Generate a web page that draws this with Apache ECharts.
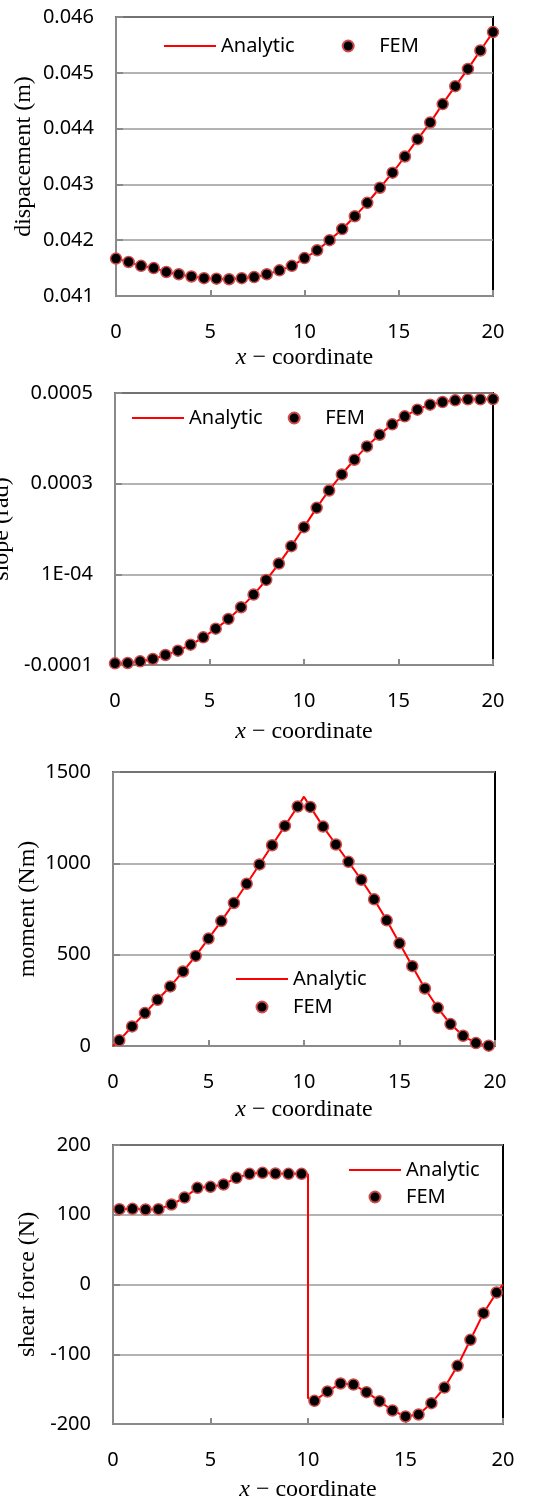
<!DOCTYPE html>
<html>
<head>
<meta charset="utf-8">
<script src="https://cdn.jsdelivr.net/npm/echarts@6/dist/echarts.min.js"></script>
<style>
  html, body { margin: 0; padding: 0; background: #fff; }
  #chart { width: 537px; height: 1504px; }
</style>
</head>
<body>
<div id="chart"></div>
<script>
// x positions: element nodes and element mid points
const xNodes = [0, 0.67, 1.33, 2, 2.67, 3.33, 4, 4.67, 5.33, 6, 6.67, 7.33, 8, 8.67, 9.33, 10,
  10.67, 11.33, 12, 12.67, 13.33, 14, 14.67, 15.33, 16, 16.67, 17.33, 18, 18.67, 19.33, 20];
const xMids = [0.33, 1, 1.67, 2.33, 3, 3.67, 4.33, 5, 5.67, 6.33, 7, 7.67, 8.33, 9, 9.67,
  10.33, 11, 11.67, 12.33, 13, 13.67, 14.33, 15, 15.67, 16.33, 17, 17.67, 18.33, 19, 19.67];

// displacement (m)
const dispFem = [0.04167, 0.04161, 0.04154, 0.04150, 0.04143, 0.04139, 0.04135, 0.04132, 0.04131,
  0.04130, 0.04132, 0.04134, 0.04139, 0.04146, 0.04154, 0.04168, 0.04182, 0.04200, 0.04220, 0.04243,
  0.04267, 0.04294, 0.04321, 0.04350, 0.04381, 0.04411, 0.04444, 0.04476, 0.04507, 0.04540, 0.04573];
const dispAnalytic = dispFem;

// slope (rad)
const slopeFem = [-0.0000963, -0.0000956, -0.0000919, -0.0000867, -0.0000779, -0.0000683, -0.0000551,
  -0.0000389, -0.0000198, 0.0000016, 0.0000274, 0.0000553, 0.0000877, 0.0001238, 0.0001621, 0.0002040,
  0.0002467, 0.0002850, 0.0003204, 0.0003528, 0.0003822, 0.0004080, 0.0004308, 0.0004485, 0.0004632,
  0.0004742, 0.0004801, 0.0004838, 0.0004860, 0.0004860, 0.0004867];
const slopeAnalytic = slopeFem;
const slopeTicks = ['-0.0001', '1E-04', '0.0003', '0.0005'];

// moment (Nm)
const momentFem = [31, 107, 180, 253, 326, 408, 493, 588, 684, 783, 888, 994, 1099, 1205, 1311,
  1309, 1201, 1103, 1008, 910, 803, 688, 562, 437, 315, 209, 120, 56, 16, 2];
const momentLineX = [0, 0.33, 1, 1.67, 2.33, 3, 3.67, 4.33, 5, 5.67, 6.33, 7, 7.67, 8.33, 9, 9.67, 10,
  10.33, 11, 11.67, 12.33, 13, 13.67, 14.33, 15, 15.67, 16.33, 17, 17.67, 18.33, 19, 19.67, 20];
const momentLineY = [0, 31, 107, 180, 253, 326, 408, 493, 588, 684, 783, 888, 994, 1099, 1205, 1311, 1365,
  1309, 1201, 1103, 1008, 910, 803, 688, 562, 437, 315, 209, 120, 56, 16, 2, 0];

// shear force (N)
const shearFem = [108, 108.5, 107.5, 108, 114.7, 124.7, 138.6, 140, 143.4, 152.9, 158.7, 160.1, 159.1,
  158.7, 158.7, -166.8, -153.4, -141.9, -143.4, -154.4, -167.3, -180.6, -189.2, -186.4, -170.1, -147.7,
  -116.6, -79.3, -41.1, -11.5];
const shearLineX = [0, 0.33, 1, 1.67, 2.33, 3, 3.67, 4.33, 5, 5.67, 6.33, 7, 7.67, 8.33, 9, 9.67, 10, 10,
  10.33, 11, 11.67, 12.33, 13, 13.67, 14.33, 15, 15.67, 16.33, 17, 17.67, 18.33, 19, 19.67, 20];
const shearLineY = [108, 108, 108.5, 107.5, 108, 114.7, 124.7, 138.6, 140, 143.4, 152.9, 158.7, 160.1, 159.1,
  158.7, 158.7, 158, -163, -166.8, -153.4, -141.9, -143.4, -154.4, -167.3, -180.6, -189.2, -186.4, -170.1,
  -147.7, -116.6, -79.3, -41.1, -11.5, 0];

const zip = (xs, ys) => xs.map((x, i) => [x, ys[i]]);

const AXIS_GREY = '#8a8a8a';
const tickFont = { fontFamily: 'Noto Sans', fontSize: 20, color: '#000' };
const titleFont = { fontFamily: 'Liberation Serif', fontSize: 24, color: '#000' };

// one panel per quantity
const panels = [
  { grid: { left: 116, top: 17, width: 377, height: 279 },
    y: { min: 0.041, max: 0.046, interval: 0.001, fmt: v => v.toFixed(3), name: 'dispacement (m)', gap: 80 },
    xNameGap: 50,
    legend: { left: 163, top: 36, orient: 'horizontal', itemGap: 47 },
    line: zip(xNodes, dispAnalytic), fem: zip(xNodes, dispFem), smooth: true },
  { grid: { left: 115, top: 393, width: 378, height: 272 },
    y: { min: -0.0001, max: 0.0005, interval: 0.0002,
         fmt: v => slopeTicks[Math.round((v + 0.0001) / 0.0002)], name: 'slope (rad)', gap: 101 },
    xNameGap: 55,
    legend: { left: 131, top: 408, orient: 'horizontal', itemGap: 25 },
    line: zip(xNodes, slopeAnalytic), fem: zip(xNodes, slopeFem), smooth: true },
  { grid: { left: 113, top: 772, width: 382, height: 274 },
    y: { min: 0, max: 1500, interval: 500, fmt: v => String(v), name: 'moment (Nm)', gap: 73 },
    xNameGap: 52,
    legend: { left: 235, top: 969, orient: 'vertical', itemGap: 8 },
    line: zip(momentLineX, momentLineY), fem: zip(xMids, momentFem), smooth: false },
  { grid: { left: 113, top: 1145, width: 390, height: 279 },
    y: { min: -200, max: 200, interval: 100, fmt: v => String(v), name: 'shear force (N)', gap: 73 },
    xNameGap: 54,
    legend: { left: 348, top: 1160, orient: 'vertical', itemGap: 7 },
    line: zip(shearLineX, shearLineY), fem: zip(xMids, shearFem), smooth: false }
];

const option = {
  animation: false,
  backgroundColor: '#fff',
  grid: [], xAxis: [], yAxis: [], legend: [], series: []
};

panels.forEach((p, i) => {
  option.grid.push(Object.assign({
    show: true, borderColor: '#000', borderWidth: 2, backgroundColor: 'transparent',
    containLabel: false, outerBoundsMode: 'none'
  }, p.grid));
  option.xAxis.push({
    type: 'value', gridIndex: i, min: 0, max: 20, interval: 5,
    axisLine: { onZero: false, lineStyle: { color: AXIS_GREY, width: 2 } },
    axisTick: { inside: true, length: 6, lineStyle: { color: AXIS_GREY, width: 2 } },
    axisLabel: Object.assign({ margin: 26 }, tickFont),
    splitLine: { show: false },
    name: '{i|x} − coordinate', nameLocation: 'middle', nameGap: p.xNameGap, nameMoveOverlap: false,
    nameTextStyle: Object.assign({
      rich: { i: { fontFamily: 'Liberation Serif', fontSize: 24, fontStyle: 'italic', color: '#000' } }
    }, titleFont)
  });
  option.yAxis.push({
    type: 'value', gridIndex: i, min: p.y.min, max: p.y.max, interval: p.y.interval,
    axisLine: { show: true, onZero: false, lineStyle: { color: AXIS_GREY, width: 2 } },
    axisTick: { show: true, inside: true, length: 7, lineStyle: { color: AXIS_GREY, width: 2 } },
    axisLabel: Object.assign({ margin: 22, formatter: p.y.fmt }, tickFont),
    splitLine: { show: true, lineStyle: { color: '#9a9a9a', width: 1.5 } },
    name: p.y.name, nameLocation: 'middle', nameRotate: 90, nameGap: p.y.gap, nameMoveOverlap: false,
    nameTextStyle: titleFont
  });
  option.legend.push(Object.assign({
    data: [
      { name: 'Analytic', itemStyle: { color: 'transparent', borderWidth: 0, opacity: 0 } },
      'FEM'
    ],
    itemWidth: 52, itemHeight: 11, selectedMode: false, padding: 0,
    textStyle: { fontFamily: 'Noto Sans', fontSize: 20, color: '#000', lineHeight: 20 }
  }, p.legend));
  option.series.push({
    name: 'Analytic', type: 'line', xAxisIndex: i, yAxisIndex: i,
    data: p.line, symbol: 'none', smooth: p.smooth ? 0.3 : false,
    lineStyle: { color: '#ff0000', width: 2 }, itemStyle: { color: '#ff0000' }, z: 2
  });
  option.series.push({
    name: 'FEM', type: 'scatter', xAxisIndex: i, yAxisIndex: i,
    data: p.fem, symbol: 'circle', symbolSize: 11,
    itemStyle: { color: '#000', borderColor: '#d24b4b', borderWidth: 1.5, opacity: 1 }, z: 3
  });
});

const chart = echarts.init(document.getElementById('chart'));
chart.setOption(option);
</script>
</body>
</html>
